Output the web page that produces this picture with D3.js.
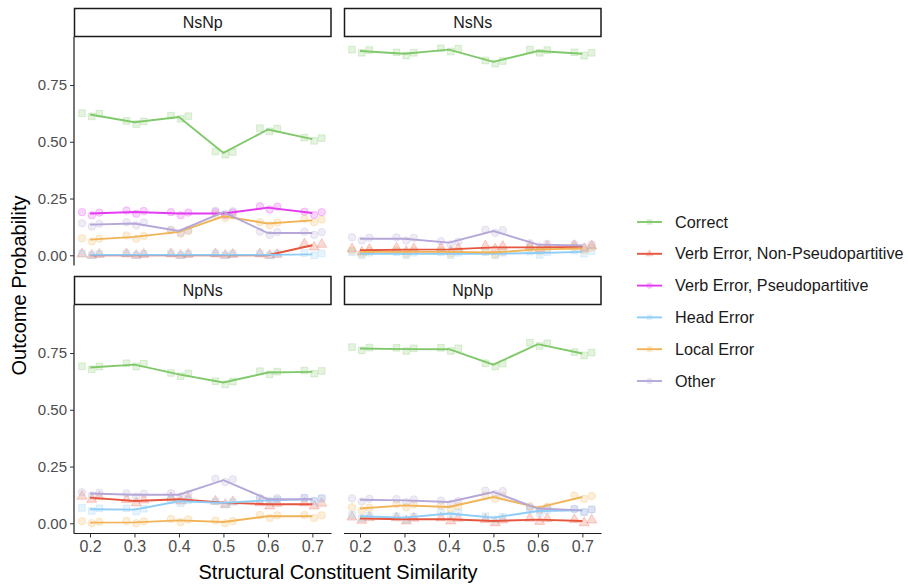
<!DOCTYPE html>
<html>
<head>
<meta charset="utf-8">
<script src="https://cdn.jsdelivr.net/npm/d3@7"></script>
<style>
  body { margin: 0; background: #fff; }
  text { font-family: "Liberation Sans", Arial, sans-serif; }
</style>
</head>
<body>
<svg id="chart"></svg>
<script>
const similarity = [0.2, 0.3, 0.4, 0.5, 0.6, 0.7];
const panels = ["NsNp", "NsNs", "NpNs", "NpNp"];
const outcomes = ["Correct", "Verb Error, Non-Pseudopartitive", "Verb Error, Pseudopartitive", "Head Error", "Local Error", "Other"];
const colors = ["#80c96a", "#e6553d", "#e33af2", "#8dcdf7", "#f0b457", "#b5a8d8"];
const yTicks = [0, 0.25, 0.5, 0.75];
const xTicks = [0.2, 0.3, 0.4, 0.5, 0.6, 0.7];

// mean outcome probability by similarity, one array per outcome (null = not shown)
const NsNp = {
  "Correct": [0.62, 0.586, 0.609, 0.451, 0.554, 0.512],
  "Verb Error, Non-Pseudopartitive": [0.0, 0.0, 0.0, 0.0, 0.0, 0.044],
  "Verb Error, Pseudopartitive": [0.184, 0.191, 0.184, 0.184, 0.21, 0.186],
  "Head Error": [0.002, 0.002, 0.002, 0.002, 0.002, 0.004],
  "Local Error": [0.069, 0.081, 0.103, 0.172, 0.14, 0.154],
  "Other": [0.135, 0.14, 0.107, 0.19, 0.098, 0.098]
};
const NsNs = {
  "Correct": [0.90, 0.888, 0.906, 0.852, 0.90, 0.888],
  "Verb Error, Non-Pseudopartitive": [0.022, 0.025, 0.026, 0.035, 0.035, 0.037],
  "Verb Error, Pseudopartitive": null,
  "Head Error": [0.007, 0.007, 0.007, 0.007, 0.01, 0.015],
  "Local Error": [0.015, 0.015, 0.015, 0.012, 0.026, 0.03],
  "Other": [0.073, 0.073, 0.056, 0.107, 0.047, 0.043]
};
const NpNs = {
  "Correct": [0.686, 0.699, 0.656, 0.62, 0.664, 0.667],
  "Verb Error, Non-Pseudopartitive": [0.113, 0.098, 0.106, 0.091, 0.084, 0.084],
  "Verb Error, Pseudopartitive": null,
  "Head Error": [0.062, 0.06, 0.097, 0.09, 0.101, 0.106],
  "Local Error": [0.003, 0.004, 0.013, 0.006, 0.031, 0.031],
  "Other": [0.131, 0.126, 0.126, 0.19, 0.106, 0.106]
};
const NpNp = {
  "Correct": [0.77, 0.767, 0.767, 0.699, 0.789, 0.748],
  "Verb Error, Non-Pseudopartitive": [0.021, 0.018, 0.018, 0.01, 0.016, 0.01],
  "Verb Error, Pseudopartitive": null,
  "Head Error": [0.031, 0.025, 0.043, 0.025, 0.054, 0.057],
  "Local Error": [0.065, 0.079, 0.072, 0.116, 0.069, 0.116],
  "Other": [0.104, 0.101, 0.094, 0.138, 0.065, 0.057]
};
const panelData = [NsNp, NsNs, NpNs, NpNp];

// small fixed jitter for the raw points around each mean
const jitterX = [-0.018, 0.004, 0.021];
const jitterY = [0.006, -0.008, 0.004];

const width = 908, height = 584;
const svg = d3.select("#chart").attr("width", width).attr("height", height);

const cols = [74, 344], rows = [37, 305];
const pw = 257.5, ph = 228.5, stripH = 29;

const x = d3.scaleLinear().domain([0.164, 0.743]).range([0, pw]);
const y = d3.scaleLinear().domain([-0.045, 0.9616]).range([ph, 0]);

const shapes = [d3.symbolSquare, d3.symbolTriangle, d3.symbolCircle, d3.symbolSquare, d3.symbolCircle, d3.symbolCircle];
const line = d3.line().x((d, i) => x(similarity[i])).y(d => y(d));

panels.forEach((name, p) => {
  const col = p % 2, row = Math.floor(p / 2);
  const g = svg.append("g").attr("transform", `translate(${cols[col]},${rows[row]})`);

  // strip
  g.append("rect").attr("x", 0.5).attr("y", -stripH + 0.5).attr("width", pw - 1).attr("height", stripH - 1)
    .attr("fill", "#fff").attr("stroke", "#1a1a1a").attr("stroke-width", 1.5);
  g.append("text").attr("x", pw / 2).attr("y", -stripH / 2).attr("dy", "0.35em")
    .attr("text-anchor", "middle").attr("font-size", 16).attr("fill", "#1a1a1a").text(name);

  const data = panelData[p];
  outcomes.forEach((o, k) => {
    const vals = data[o];
    if (!vals) return;
    const pts = [];
    vals.forEach((v, i) => jitterX.forEach((jx, j) => pts.push({ x: similarity[i] + jx, y: Math.max(0, v + jitterY[j]) })));
    g.append("g").selectAll("path").data(pts).join("path")
      .attr("d", d3.symbol().type(shapes[k]).size(44))
      .attr("transform", d => `translate(${x(d.x)},${y(d.y)})`)
      .attr("fill", colors[k]).attr("fill-opacity", 0.22)
      .attr("stroke", colors[k]).attr("stroke-opacity", 0.25);
  });
  outcomes.forEach((o, k) => {
    const vals = data[o];
    if (!vals) return;
    g.append("path").datum(vals).attr("d", line)
      .attr("fill", "none").attr("stroke", colors[k]).attr("stroke-width", 1.9);
  });

  // axes: only on outer panels
  if (col === 0) {
    const ya = g.append("g").call(d3.axisLeft(y).tickValues(yTicks).tickFormat(d3.format(".2f")).tickSize(4).tickPadding(3));
    ya.select(".domain").attr("d", `M0,0V${ph}`).attr("stroke", "#1a1a1a").attr("stroke-width", 1.2);
    ya.selectAll(".tick line").attr("stroke", "#333");
    ya.selectAll(".tick text").attr("font-size", 15).attr("fill", "#4d4d4d").attr("font-family", "Liberation Sans, Arial, sans-serif");
  }
  if (row === 1) {
    const xa = g.append("g").attr("transform", `translate(0,${ph})`)
      .call(d3.axisBottom(x).tickValues(xTicks).tickFormat(d3.format(".1f")).tickSize(4).tickPadding(3));
    xa.select(".domain").attr("d", `M0,0H${pw}`).attr("stroke", "#1a1a1a").attr("stroke-width", 1.2);
    xa.selectAll(".tick line").attr("stroke", "#333");
    xa.selectAll(".tick text").attr("font-size", 16).attr("fill", "#4d4d4d").attr("font-family", "Liberation Sans, Arial, sans-serif");
  }
});

// axis titles
svg.append("text").attr("x", 338).attr("y", 579).attr("text-anchor", "middle")
  .attr("font-size", 20).attr("fill", "#000").text("Structural Constituent Similarity");
svg.append("text").attr("transform", `translate(26,${(37 + 534) / 2}) rotate(-90)`).attr("text-anchor", "middle")
  .attr("font-size", 20).attr("fill", "#000").text("Outcome Probability");

// legend
const legend = svg.append("g").attr("transform", "translate(637,222)");
outcomes.forEach((o, k) => {
  const lg = legend.append("g").attr("transform", `translate(0,${k * 31.8})`);
  lg.append("line").attr("x1", 0).attr("x2", 25).attr("stroke", colors[k]).attr("stroke-width", 1.9);
  lg.append("path").attr("d", d3.symbol().type(shapes[k]).size(30)).attr("transform", "translate(12.5,0)")
    .attr("fill", colors[k]).attr("fill-opacity", 0.3);
  lg.append("text").attr("x", 38).attr("dy", "0.35em").attr("font-size", 16.2).attr("fill", "#1a1a1a").text(o);
});
</script>
</body>
</html>
